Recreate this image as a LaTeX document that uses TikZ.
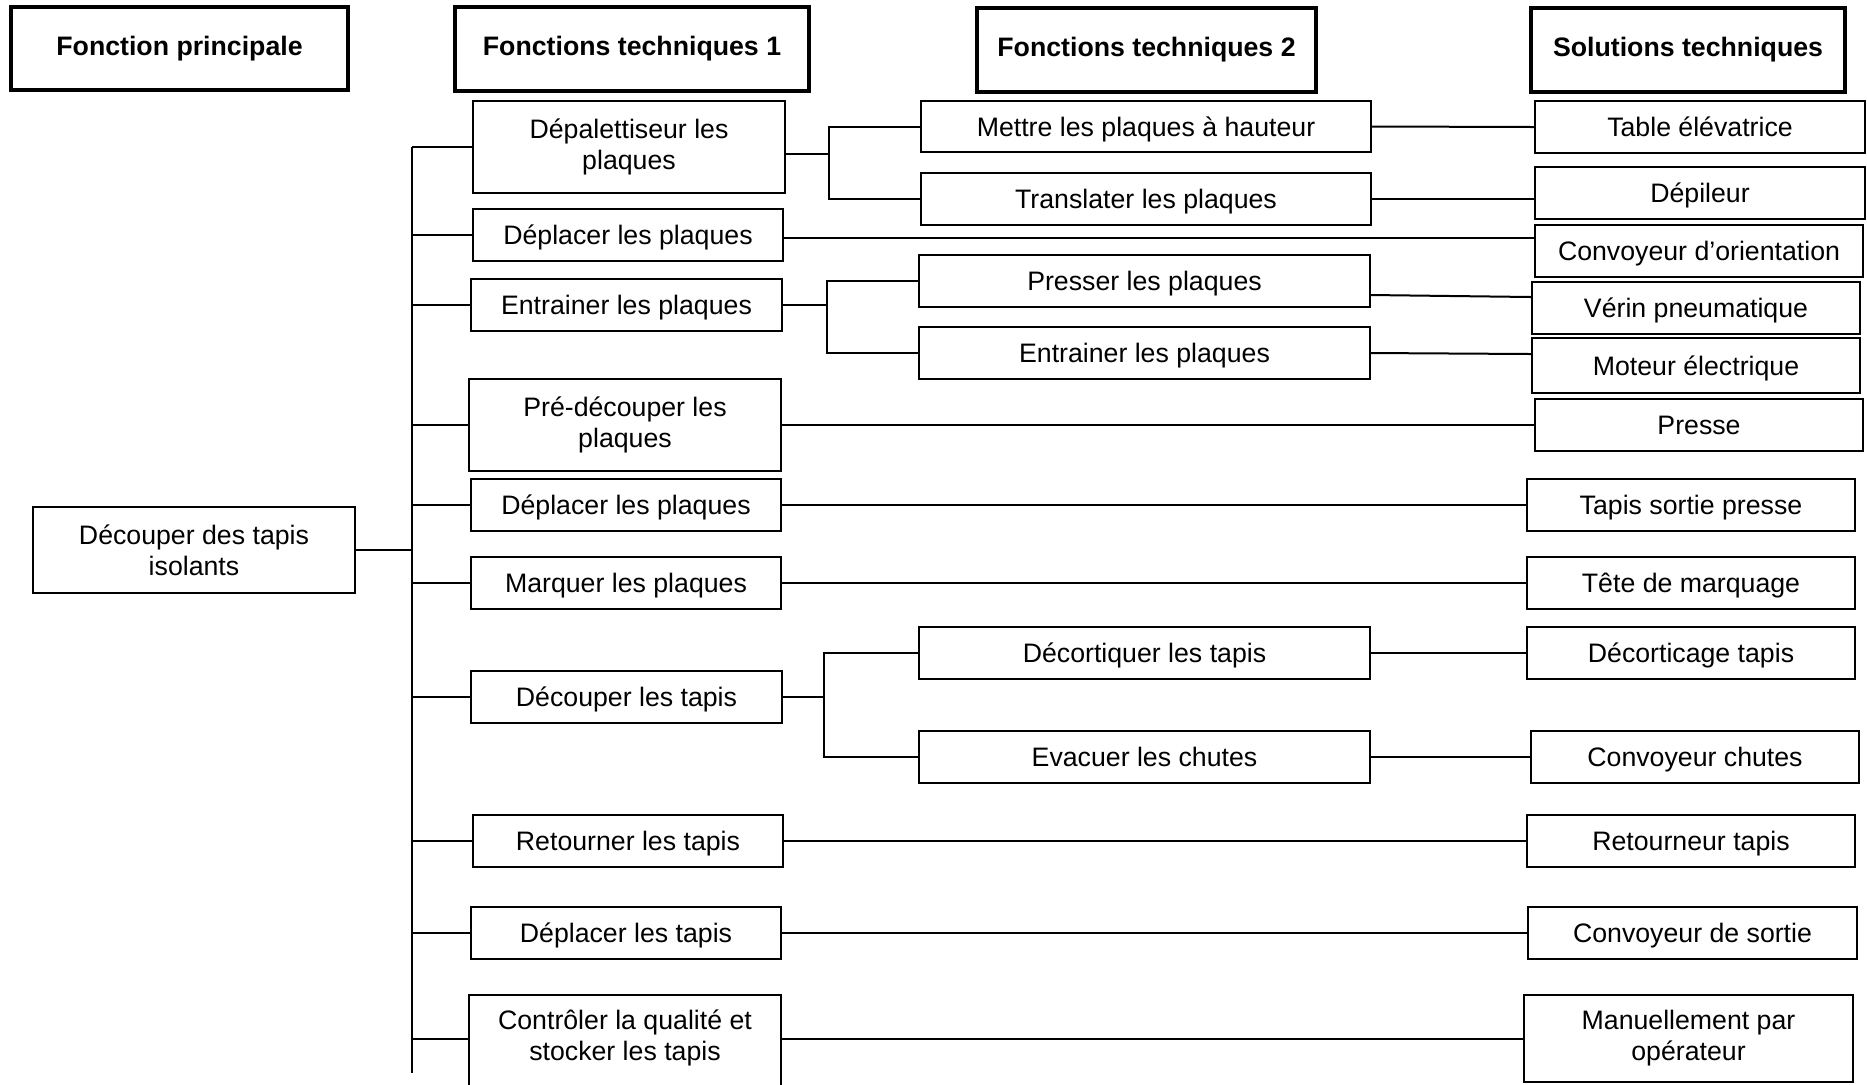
\documentclass[tikz,border=0pt]{standalone}
\usepackage{fontspec}
\setmainfont{Liberation Sans}
\tikzset{
  box/.style={draw, line width=1.1pt, inner sep=1pt, align=center, font=\fontsize{13.35}{15.5}\selectfont},
  sl/.style={text depth=0pt},
  hbox/.style={box, line width=2pt, font=\bfseries\fontsize{13.35}{15.5}\selectfont},
  link/.style={line width=1pt},
}
\newcommand\bx[7][]{\node[box,#1,minimum width={(#4-#2)*0.5pt},minimum height={(#5-#3)*0.5pt}] (#6) at ({(#2+#4)/2},{(#3+#5)/2}) {#7};}
\begin{document}
\begin{tikzpicture}[x=0.5pt,y=-0.5pt]
\useasboundingbox (0,0) rectangle (1867,1084);
\clip (0,0) rectangle (1867,1084);
% headers
\bx[hbox]{11}{7}{348}{90}{hfp}{Fonction principale}
\bx[hbox]{455}{7}{809}{91}{hft1}{Fonctions techniques 1}
\bx[hbox]{977}{8}{1316}{92}{hft2}{Fonctions techniques 2}
\bx[hbox]{1531}{8}{1845}{92}{hst}{Solutions techniques}
% main function
\bx{33}{507}{355}{593}{main}{Découper des tapis\\isolants}
% technical functions 1
\bx{473}{101}{785}{193}{dep}{Dépalettiseur les\\plaques}
\bx[sl]{473}{209}{783}{261}{dp1}{Déplacer les plaques}
\bx[sl]{471}{279}{782}{331}{ent}{Entrainer les plaques}
\bx{469}{379}{781}{471}{pre}{Pré-découper les\\plaques}
\bx[sl]{471}{479}{781}{531}{dp2}{Déplacer les plaques}
\bx[sl]{471}{557}{781}{609}{mar}{Marquer les plaques}
\bx[sl]{471}{671}{782}{723}{dec}{Découper les tapis}
\bx[sl]{473}{815}{783}{867}{ret}{Retourner les tapis}
\bx[sl]{471}{907}{781}{959}{dpt}{Déplacer les tapis}
\bx[text depth=8pt]{469}{995}{781}{1092}{ctl}{Contrôler la qualité et\\stocker les tapis}
% technical functions 2
\bx[sl]{921}{101}{1371}{152}{met}{Mettre les plaques à hauteur}
\bx[sl]{921}{173}{1371}{225}{tra}{Translater les plaques}
\bx[sl]{919}{255}{1370}{307}{prs}{Presser les plaques}
\bx[sl]{919}{327}{1370}{379}{en2}{Entrainer les plaques}
\bx[sl]{919}{627}{1370}{679}{dco}{Décortiquer les tapis}
\bx[sl]{919}{731}{1370}{783}{eva}{Evacuer les chutes}
% technical solutions
\bx[sl]{1535}{101}{1865}{153}{tab}{Table élévatrice}
\bx[sl]{1535}{167}{1865}{219}{dpi}{Dépileur}
\bx[sl]{1535}{225}{1863}{277}{cor}{Convoyeur d’orientation}
\bx[sl]{1532}{282}{1860}{334}{ver}{Vérin pneumatique}
\bx[sl]{1532}{338}{1860}{393}{mot}{Moteur électrique}
\bx[sl]{1535}{399}{1863}{451}{pss}{Presse}
\bx[sl]{1527}{479}{1855}{531}{tsp}{Tapis sortie presse}
\bx[sl]{1527}{557}{1855}{609}{tma}{Tête de marquage}
\bx[sl]{1527}{627}{1855}{679}{dct}{Décorticage tapis}
\bx[sl]{1531}{731}{1859}{783}{cch}{Convoyeur chutes}
\bx[sl]{1527}{815}{1855}{867}{rtt}{Retourneur tapis}
\bx[sl]{1528}{907}{1857}{959}{cds}{Convoyeur de sortie}
\bx{1524}{995}{1853}{1082}{man}{Manuellement par\\opérateur}
% junction coordinates
\coordinate (tt) at (412,147);
\coordinate (tb) at (412,1073);
\coordinate (j1) at (829,154);
\coordinate (j2) at (827,0);
\coordinate (j3) at (824,0);
% trunk
\draw[link] (tt) -- (tb);
\draw[link] (main.east) -- (tt |- main.east);
\foreach \n in {dep,dp1,ent,pre,dp2,mar,dec,ret,dpt}
  \draw[link] (tt |- \n.west) -- (\n.west);
\draw[link] (tt |- man.west) -- (ctl.west |- man.west);
% Depalettiser branch
\draw[link] ([yshift=-3.5pt]dep.east) -- (j1);
\draw[link] (met.west) -| (j1) |- (tra.west);
\draw[link] (met.east) -- (tab.west);
\draw[link] (tra.east) -- (dpi.west |- tra.east);
% Deplacer 1
\draw[link] ([yshift=-1.5pt]dp1.east) -- ([yshift=-1.5pt]cor.west |- dp1.east);
% Entrainer branch
\draw[link] (ent.east) -- (j2 |- ent.east);
\draw[link] (prs.west) -| (j2 |- ent.east) |- (en2.west);
\draw[link] ([yshift=-7pt]prs.east) -- ([yshift=5.5pt]ver.west);
\draw[link] (en2.east) -- ([yshift=5.75pt]mot.west);
% direct lines
\draw[link] (pre.east) -- (pss.west |- pre.east);
\draw[link] (dp2.east) -- (tsp.west |- dp2.east);
\draw[link] (mar.east) -- (tma.west);
% Decouper branch
\draw[link] (dec.east) -- (j3 |- dec.east);
\draw[link] (dco.west) -| (j3 |- dec.east) |- (eva.west);
\draw[link] (dco.east) -- (dct.west);
\draw[link] (eva.east) -- (cch.west);
% remaining
\draw[link] (ret.east) -- (rtt.west |- ret.east);
\draw[link] (dpt.east) -- (cds.west);
\draw[link] (ctl.east |- man.west) -- (man.west);
\end{tikzpicture}
\end{document}
